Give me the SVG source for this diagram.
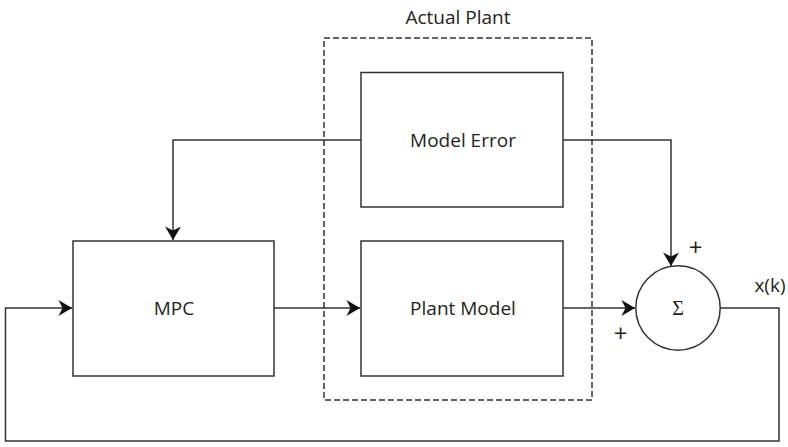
<svg xmlns="http://www.w3.org/2000/svg" width="788" height="447" viewBox="0 0 788 447">
  <style>
    .box { fill: #ffffff; stroke: #333333; stroke-width: 1.5; }
    .frame { fill: none; stroke: #333333; stroke-width: 1.5; stroke-dasharray: 6 3; }
    .wire { fill: none; stroke: #333333; stroke-width: 1.5; }
    .lbl { font-family: "Open Sans", "Liberation Sans", sans-serif; font-size: 19px; fill: #231f20; text-anchor: middle; dominant-baseline: central; }
    .sign { font-family: "Open Sans", "Liberation Sans", sans-serif; font-size: 24px; fill: #231f20; text-anchor: middle; dominant-baseline: central; }
    .sym { font-family: "Liberation Serif", "DejaVu Serif", serif; font-size: 20px; fill: #231f20; text-anchor: middle; dominant-baseline: central; }
  </style>
  <defs>
    <marker id="arrow" markerUnits="userSpaceOnUse" markerWidth="18" markerHeight="18" viewBox="-15 -9 16 18" refX="0" refY="0" orient="auto">
      <path d="M0,0 L-13.5,-8 L-9.5,0 L-13.5,8 Z" fill="#111111"/>
    </marker>
  </defs>
  <rect width="788" height="447" fill="#ffffff"/>

  <!-- plant boundary -->
  <g id="actual-plant">
    <rect class="frame" x="324" y="38" width="268" height="362"/>
    <text class="lbl" x="458" y="17">Actual Plant</text>
  </g>

  <!-- connectors -->
  <g id="connectors">
    <path class="wire" d="M361,140 H173 V240" marker-end="url(#arrow)"/>
    <path class="wire" d="M563,140 H671 V266" marker-end="url(#arrow)"/>
    <path class="wire" d="M274,308 H360" marker-end="url(#arrow)"/>
    <path class="wire" d="M563,308 H635" marker-end="url(#arrow)"/>
    <path class="wire" d="M720,308 H779 V441 H5.5 V308 H72" marker-end="url(#arrow)"/>
  </g>

  <g id="model-error">
    <rect class="box" x="361" y="72.5" width="202" height="134.5"/>
    <text class="lbl" x="463" y="140">Model Error</text>
  </g>

  <g id="plant-model">
    <rect class="box" x="361" y="241" width="202" height="135"/>
    <text class="lbl" x="463" y="308">Plant Model</text>
  </g>

  <g id="mpc">
    <rect class="box" x="73" y="241" width="201" height="135"/>
    <text class="lbl" x="174" y="308">MPC</text>
  </g>

  <g id="sum">
    <circle class="box" cx="678" cy="308" r="42.2"/>
    <text class="sym" x="678" y="308">Σ</text>
    <text class="sign" x="695.5" y="246">+</text>
    <text class="sign" x="620.5" y="332">+</text>
  </g>

  <g id="output-label">
    <text class="lbl" x="770" y="285">x(k)</text>
  </g>
</svg>
